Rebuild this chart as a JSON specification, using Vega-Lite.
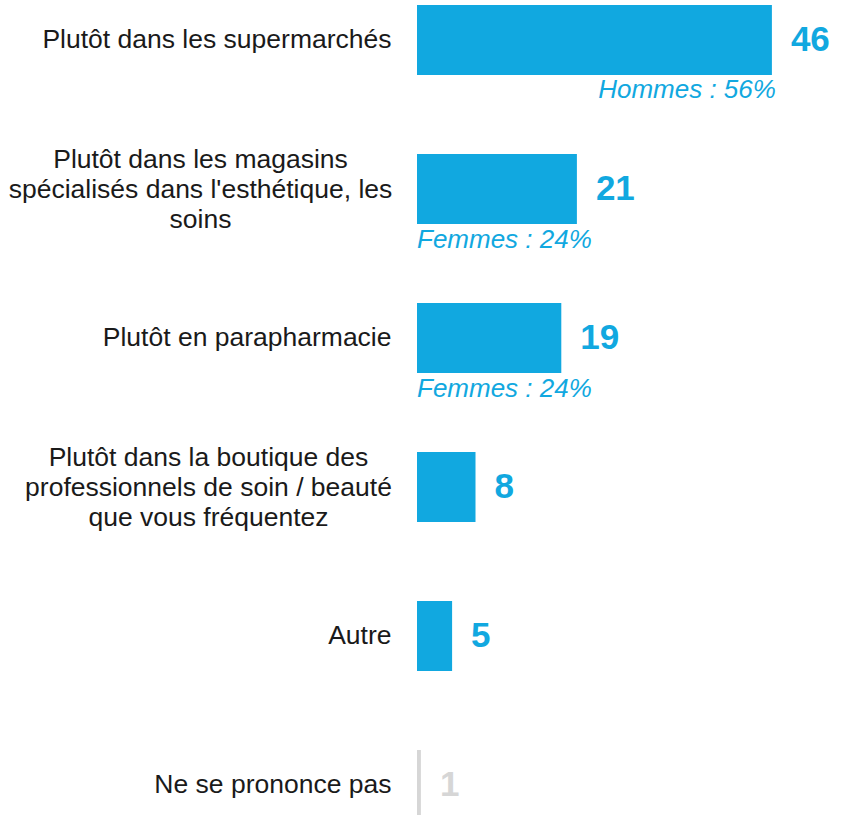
{
  "$schema": "https://vega.github.io/schema/vega-lite/v6.json",
  "autosize": {"type": "none"},
  "padding": {"left": 417, "top": 0, "right": 0, "bottom": 0},
  "width": 429,
  "height": 815,
  "background": "white",
  "config": {"view": {"stroke": null}, "font": "Liberation Sans"},
  "data": {
    "values": [
      {"cat": "Plutôt dans les supermarchés", "value": 46, "type": "main", "note": "Hommes : 56%", "noteSide": "end"},
      {"cat": "Plutôt dans les magasins|spécialisés dans l'esthétique, les|soins", "value": 21, "type": "main", "note": "Femmes : 24%", "noteSide": "start"},
      {"cat": "Plutôt en parapharmacie", "value": 19, "type": "main", "note": "Femmes : 24%", "noteSide": "start"},
      {"cat": "Plutôt dans la boutique des|professionnels de soin / beauté|que vous fréquentez", "value": 8, "type": "main", "note": "", "noteSide": ""},
      {"cat": "Autre", "value": 5, "type": "main", "note": "", "noteSide": ""},
      {"cat": "Ne se prononce pas", "value": 1, "type": "nsp", "note": "", "noteSide": ""}
    ]
  },
  "encoding": {
    "y": {
      "field": "cat",
      "type": "nominal",
      "sort": null,
      "scale": {"range": [-34.5, 859.5], "paddingInner": 0.53, "paddingOuter": 0.265},
      "axis": {
        "title": null,
        "domain": false,
        "ticks": false,
        "labelLimit": 0,
        "labelFontSize": 26.5,
        "labelColor": "#1a1a1a",
        "labelLineHeight": 30,
        "labelExpr": "split(datum.label, '|')",
        "labelAlign": {"condition": {"test": "indexof(datum.value, '|') >= 0", "value": "center"}, "value": "right"},
        "labelOffset": {"condition": {"test": "indexof(datum.value, '|') >= 0", "value": -29}, "value": 0},
        "labelPadding": {
          "condition": [
            {"test": "indexof(datum.value, 'magasins') >= 0", "value": 217},
            {"test": "indexof(datum.value, 'boutique') >= 0", "value": 209}
          ],
          "value": 26
        }
      }
    }
  },
  "layer": [
    {
      "mark": {"type": "bar"},
      "encoding": {
        "x": {"field": "value", "type": "quantitative", "scale": {"domain": [0.5, 55.5], "zero": false, "nice": false}, "axis": null},
        "x2": {"datum": 0.5},
        "color": {"field": "type", "type": "nominal", "scale": {"domain": ["main", "nsp"], "range": ["#11A8E0", "#D6D6D6"]}, "legend": null}
      }
    },
    {
      "mark": {"type": "text", "align": "left", "baseline": "middle", "dx": 19, "fontSize": 35, "fontWeight": "bold"},
      "encoding": {
        "x": {"field": "value", "type": "quantitative"},
        "text": {"field": "value"},
        "color": {"field": "type", "type": "nominal", "scale": {"domain": ["main", "nsp"], "range": ["#11A8E0", "#C2C2C2"]}, "legend": null}
      }
    },
    {
      "transform": [{"filter": "datum.noteSide == 'end'"}],
      "mark": {"type": "text", "align": "right", "baseline": "middle", "dy": 50, "dx": 4, "fontSize": 26, "fontStyle": "italic", "color": "#11A8E0"},
      "encoding": {
        "x": {"field": "value", "type": "quantitative"},
        "text": {"field": "note"}
      }
    },
    {
      "transform": [{"filter": "datum.noteSide == 'start'"}],
      "mark": {"type": "text", "align": "left", "baseline": "middle", "dy": 51, "fontSize": 26, "fontStyle": "italic", "color": "#11A8E0"},
      "encoding": {
        "x": {"datum": 0.5},
        "text": {"field": "note"}
      }
    }
  ]
}
